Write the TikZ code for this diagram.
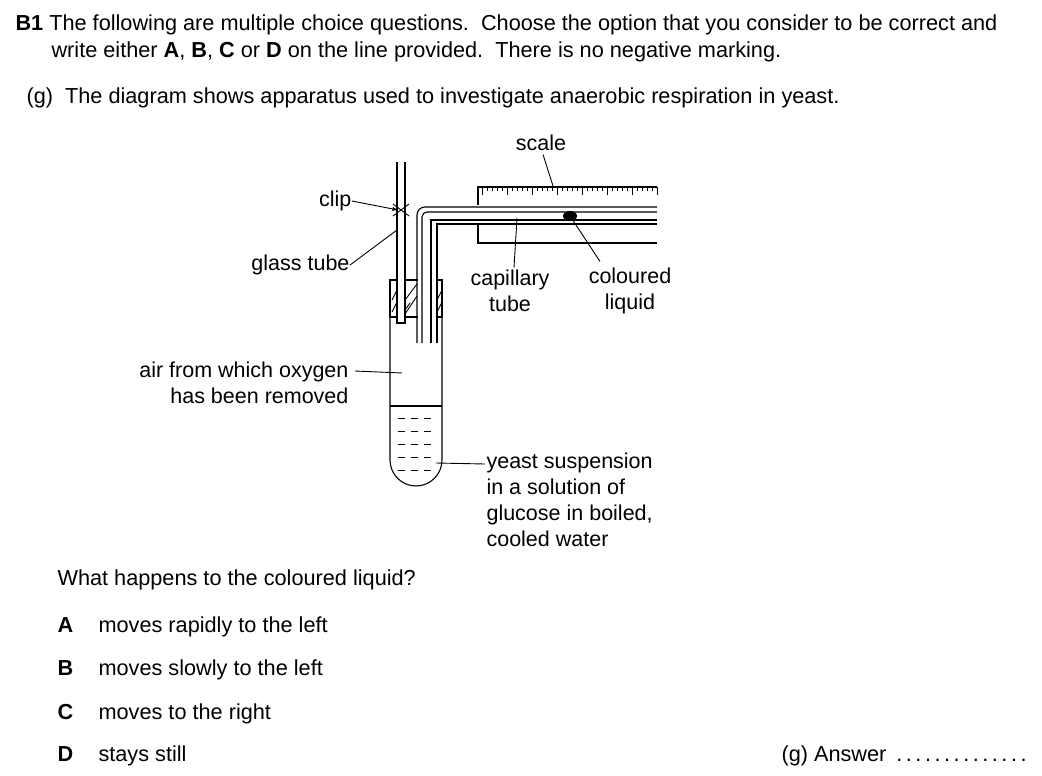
\documentclass[tikz,border=0pt]{standalone}
\usepackage{fontspec}
\setmainfont{Liberation Sans}
\begin{document}
\begin{tikzpicture}[x=1pt,y=-1pt,line width=1.1pt,
  txt/.style={inner sep=0pt,anchor=base west,font=\fontsize{21.7}{26}\selectfont},
  lab/.style={inner sep=0pt,font=\fontsize{21.5}{26}\selectfont,align=center},
  ld/.style={line width=0.9pt}]
\useasboundingbox (0,0) rectangle (1042,776);
% header
\node[txt] (h1) at (15,31) {\textbf{B1} The following are multiple choice questions.\ \ Choose the option that you consider to be correct and};
\node[txt] (h2) at (51,58) {write either \textbf{A}, \textbf{B}, \textbf{C} or \textbf{D} on the line provided.\ \ There is no negative marking.};
\node[txt] (g) at (26,103) {(g)\ \ The diagram shows apparatus used to investigate anaerobic respiration in yeast.};
% test tube
\draw (390,280) -- (390,460) arc[start angle=180,end angle=0,radius=26] -- (442,280);
\draw (390,406) -- (442,406);
\foreach \yy in {418,431,444,457,470} {\draw[ld,dash pattern=on 7pt off 6pt] (398,\yy) -- (436,\yy);}
% bung
\draw (390,280) rectangle (442,317);
\fill[white] (397.6,279) rectangle (404.4,318);
\fill[white] (417.6,279) rectangle (436.4,318);
\draw[ld] (392,300) -- (397,290) (392,312) -- (397,302);
\draw[ld] (405,300) -- (417,284) (405,314) -- (417,296) (405,310) -- (410,303);
\draw[ld] (437,300) -- (442,290) (437,312) -- (442,302);
% glass tube
\draw (397,162) -- (397,323) -- (405,323) -- (405,162);
\fill[white] (398,204) rectangle (404,216);
\draw[ld] (393,204) -- (409,216) (393,216) -- (409,204);
\coordinate (clipc) at (398,210);
% capillary tube
\draw (417,343) -- (417,215) arc[start angle=180,end angle=270,radius=8] -- (657,207);
\draw (422,343) -- (422,217) arc[start angle=180,end angle=270,radius=5] -- (657,212);
\draw (431,343) -- (431,220) -- (657,220);
\draw (437,343) -- (437,224) -- (657,224);
% scale
\draw (657,187) -- (478,187) -- (478,205);
\draw (478,225) -- (478,243) -- (657,243);
\foreach \i in {0,...,35} {\pgfmathsetmacro\xx{482+\i*5}
  \pgfmathsetmacro\ll{ifthenelse(mod(\i,5)==0,8,4)}
  \draw[line width=0.7pt] (\xx,187) -- (\xx,187+\ll);}
\fill (570,216) ellipse (7 and 5);
\coordinate (blob) at (570,216);
% labels
\node[lab] (scale) at (541,143) {scale};
\draw[ld] (scale.south) ++(2,3) -- (553,186);
\node[lab,anchor=east] (clip) at (352,201) {clip};
\draw[ld,-latex] (clip.east) -- (clipc);
\node[lab,anchor=east] (gt) at (350,265) {glass tube};
\draw[ld] (gt.east) -- (397,230);
\node[lab] (cap) at (510,291) {capillary\\tube};
\draw[ld] (cap.north) ++(4,-2) -- (517,218);
\node[lab] (col) at (630,291) {coloured\\liquid};
\draw[ld] (col.north) ++(-30,-6) -- (blob);
\node[lab,align=right,anchor=east] (air) at (349,383) {air from which oxygen\\has been removed};
\draw[ld] (355,371) -- (402,373);
\node[lab,align=left,anchor=north west] (yeast) at (486,452) {yeast suspension\\in a solution of\\glucose in boiled,\\cooled water};
\draw[ld] (436,463) -- (485,464);
% question
\node[txt] (q) at (57,585) {What happens to the coloured liquid?};
\node[txt] (A) at (57,632) {\textbf{A}}; \node[txt] at (98,632) {moves rapidly to the left};
\node[txt] (B) at (57,675) {\textbf{B}}; \node[txt] at (98,675) {moves slowly to the left};
\node[txt] (C) at (57,719) {\textbf{C}}; \node[txt] at (98,719) {moves to the right};
\node[txt] (D) at (57,761) {\textbf{D}}; \node[txt] at (98,761) {stays still};
\node[txt] (ans) at (781,761) {(g) Answer \makebox[138pt][l]{\dotfill}};
\end{tikzpicture}
\end{document}
